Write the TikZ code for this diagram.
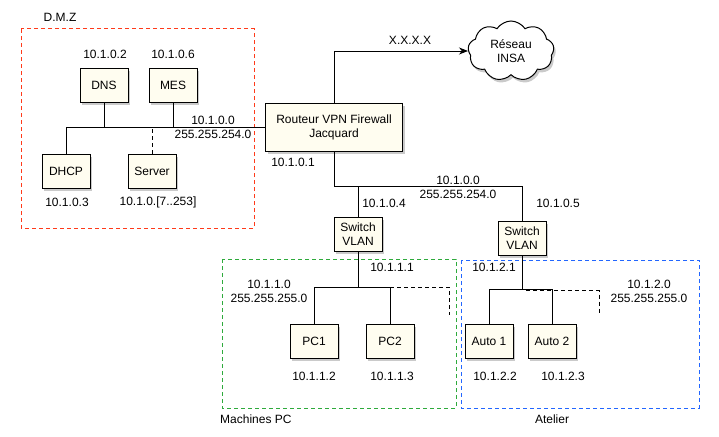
\documentclass[tikz,border=0pt]{standalone}
\usepackage{fontspec}
\setmainfont{Liberation Sans}
\usepackage{xcolor}
\usepackage{tikz}
\usetikzlibrary{shapes, shapes.symbols, arrows, positioning, calc, shadows}
\definecolor{cream}{HTML}{FFFDF0}
\definecolor{dmzred}{HTML}{FF3A1A}
\definecolor{pcgreen}{HTML}{2EAA3C}
\definecolor{atblue}{HTML}{2266FF}
\tikzset{
    host/.style={rectangle, draw, line width=1pt, fill=cream, minimum width=48, minimum height=34, align=center,
        drop shadow={shadow xshift=2pt, shadow yshift=-3pt, opacity=0.35, fill=black!60}},
    net/.style={cloud, cloud puffs=9, cloud puff arc=115, aspect=1.45, draw, line width=1pt, fill=white,
        minimum width=86, minimum height=60, align=center,
        drop shadow={shadow xshift=2pt, shadow yshift=-3pt, opacity=0.35, fill=black!60}},
    addr/.style={inner sep=0pt, align=center},
    zone/.style={dashed, dash pattern=on 4pt off 3pt, line width=1pt},
    link/.style={line width=0.9pt},
    arrow/.style={-{Stealth[length=9pt, width=7pt]}, line width=0.9pt}
}
\usetikzlibrary{arrows.meta}

\begin{document}
\begin{tikzpicture}[x=1pt, y=-1pt, font=\fontsize{12}{14}\selectfont]
    \useasboundingbox (0,0) rectangle (719,436);
    % zones
    \draw[zone, dmzred] (21,29) rectangle (254,228);
    \draw[zone, pcgreen] (222,259) rectangle (456,408);
    \draw[zone, atblue] (461,260) rectangle (699,408);
    \node[addr] (dmzlbl) at (60,17) {D.M.Z};
    \node[addr, anchor=west] (pclbl) at (220,419) {Machines PC};
    \node[addr] (atlbl) at (552,419) {Atelier};
    % machines
    \node[host] (dns) at (104,85) {DNS};
    \node[host] (mes) at (173,85) {MES};
    \node[host] (dhcp) at (66,171) {DHCP};
    \node[host] (server) at (152,171) {Server};
    \node[host, minimum width=137, minimum height=48] (router) at (334,127) {Routeur VPN Firewall\\Jacquard};
    \node[net] (insa) at (511,51) {Réseau\\INSA};
    \node[host] (sw1) at (358,234) {Switch\\VLAN};
    \node[host] (sw2) at (522,238) {Switch\\VLAN};
    \node[host] (pc1) at (314,341) {PC1};
    \node[host] (pc2) at (390,341) {PC2};
    \node[host] (auto1) at (489,341) {Auto 1};
    \node[host] (auto2) at (552,341) {Auto 2};
    % addresses
    \node[addr] (dnsip) at (105,54) {10.1.0.2};
    \node[addr] (mesip) at (173,54) {10.1.0.6};
    \node[addr] (dhcpip) at (67,202) {10.1.0.3};
    \node[addr] (serverip) at (158,202) {10.1.0.[7..253]};
    \node[addr] (dmznet) at (213,127) {10.1.0.0\\255.255.254.0};
    \node[addr] (wanip) at (410,40) {X.X.X.X};
    \node[addr] (routerip) at (293,162) {10.1.0.1};
    \node[addr] (lannet) at (458,187) {10.1.0.0\\255.255.254.0};
    \node[addr] (sw1ip) at (384,203) {10.1.0.4};
    \node[addr] (sw2ip) at (558,203) {10.1.0.5};
    \node[addr] (sw1lan) at (392,267) {10.1.1.1};
    \node[addr] (sw2lan) at (494,267) {10.1.2.1};
    \node[addr] (pcnet) at (269,291) {10.1.1.0\\255.255.255.0};
    \node[addr] (atnet) at (649,291) {10.1.2.0\\255.255.255.0};
    \node[addr] (pc1ip) at (314,376) {10.1.1.2};
    \node[addr] (pc2ip) at (392,376) {10.1.1.3};
    \node[addr] (auto1ip) at (495,376) {10.1.2.2};
    \node[addr] (auto2ip) at (563,376) {10.1.2.3};
    % dmz bus
    \draw[link] (dhcp.north) |- (router.west);
    \draw[link] (dns.south) -- (dns.south |- router.west);
    \draw[link] (mes.south) -- (mes.south |- router.west);
    \draw[link, zone, line width=0.9pt] (server.north) -- (server.north |- router.west);
    % wan
    \draw[arrow] (router.north) |- (insa.west);
    % lan bus
    \coordinate (lanbus) at (334,186);
    \draw[link] (router.south) -- (lanbus) -| (sw2.north);
    \draw[link] (sw1.north |- lanbus) -- (sw1.north);
    % machines pc
    \coordinate (pcbus) at (358,287);
    \coordinate (pcmore) at (449,315);
    \draw[link] (sw1.south) -- (pcbus);
    \draw[link] (pc1.north) |- (pc2.north |- pcbus) -- (pc2.north);
    \draw[zone, line width=0.9pt] (pc2.north |- pcbus) -| (pcmore);
    % atelier
    \coordinate (atbus) at (522,289);
    \coordinate (atmore) at (599,315);
    \draw[link] (sw2.south) -- (atbus);
    \draw[link] (auto1.north) |- (auto2.north |- atbus) -- (auto2.north);
    \draw[zone, line width=0.9pt] ($(atbus)+(4,1.5)$) -| (atmore);
\end{tikzpicture}
\end{document}
